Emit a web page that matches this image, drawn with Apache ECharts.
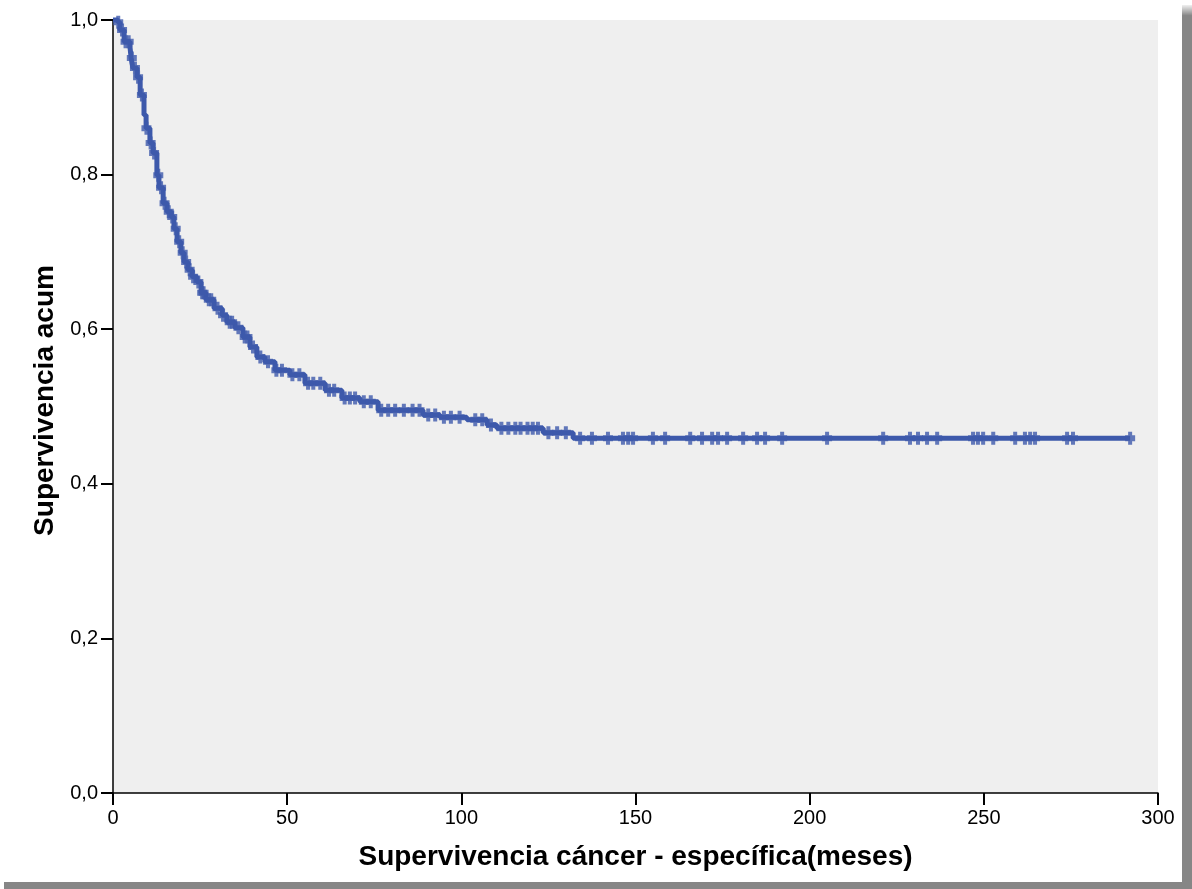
<!DOCTYPE html>
<html>
<head>
<meta charset="utf-8">
<script src="https://cdn.jsdelivr.net/npm/echarts@6/dist/echarts.min.js"></script>
<style>
html,body{margin:0;padding:0;background:#fff;}
#chart{width:1192px;height:889px;}
</style>
</head>
<body>
<div id="chart"></div>
<script>
// Kaplan-Meier step data (event times in months, survival after event)
const eventTimes = [0, 1.4, 2.0, 3.2, 4.9, 5.2, 5.7, 6.9, 7.8, 8.9, 9.5, 10.6, 11.5, 12.6, 13.2, 14.4, 15.5, 16.7, 17.5, 18.4, 19.5, 20.4, 21.5, 22.7, 24.1, 25.3, 26.7, 29.0, 31.3, 32.7, 35.0, 37.3, 39.3, 41.3, 43.6, 46.5, 50.8, 55.1, 60.9, 65.7, 70.9, 76.1, 89.0, 93.9, 101.6, 107.4, 110.2, 123.5, 132.1];
const survival = [1.0, 0.997, 0.987, 0.972, 0.964, 0.951, 0.938, 0.926, 0.903, 0.877, 0.860, 0.841, 0.828, 0.799, 0.783, 0.763, 0.752, 0.745, 0.730, 0.713, 0.699, 0.687, 0.677, 0.668, 0.661, 0.647, 0.638, 0.627, 0.618, 0.609, 0.602, 0.590, 0.577, 0.564, 0.558, 0.547, 0.541, 0.530, 0.521, 0.511, 0.506, 0.495, 0.489, 0.486, 0.483, 0.476, 0.472, 0.466, 0.459];
const lastFollowUp = 292;
// censored observations (months)
const censorTimes = [1.5, 2.6, 3.6, 4.5, 5.4, 6.3, 7.2, 8.3, 9.6, 10.8, 11.8, 13.0, 13.8, 14.8, 16.0, 17.0, 18.0, 19.0, 20.0, 21.0, 22.0, 23.0, 24.5, 25.6, 26.0, 27.5, 28.2, 30.0, 31.6, 33.5, 34.2, 36.0, 37.8, 38.6, 40.2, 42.3, 44.5, 46.9, 48.5, 51.5, 53.5, 56.0, 57.5, 59.5, 62.0, 63.5, 66.5, 68.0, 69.5, 72.0, 74.0, 77.0, 79.0, 81.0, 83.5, 86.0, 88.0, 90.5, 92.5, 95.0, 97.0, 99.5, 104.0, 106.0, 108.5, 111.5, 113.5, 115.5, 117.0, 119.0, 120.5, 122.0, 125.0, 127.5, 130.0,
  134.1, 137.5, 142.1, 146.4, 147.9, 149.3, 155.0, 158.5, 165.7, 169.1, 172.0, 173.7, 176.3, 180.9, 184.9, 187.2, 192.1, 205.0, 221.1, 228.8, 231.1, 233.7, 236.6, 246.9, 248.3, 249.8, 252.7, 259.0, 261.8, 263.3, 264.7, 273.9, 275.6, 292];
const xTicks = [0, 50, 100, 150, 200, 250, 300];
const yTicks = [0, 0.2, 0.4, 0.6, 0.8, 1.0];

function survAt(t) {
  let s = survival[0];
  for (let i = 0; i < eventTimes.length; i++) {
    if (eventTimes[i] <= t) s = survival[i]; else break;
  }
  return s;
}

const stepData = eventTimes.map((t, i) => [t, survival[i]]);
stepData.push([lastFollowUp, survival[survival.length - 1]]);
const censorData = censorTimes.map(t => [t, survAt(t)]);

const blue = '#3d59ab';
const font = '"Liberation Sans", Arial, sans-serif';
const chart = echarts.init(document.getElementById('chart'));
chart.setOption({
  animation: false,
  grid: {
    left: 113, right: 34, top: 20, bottom: 96,
    show: true, backgroundColor: '#efefef', borderWidth: 0
  },
  xAxis: {
    type: 'value', min: xTicks[0], max: xTicks[xTicks.length - 1], interval: 50,
    name: 'Supervivencia cáncer - específica(meses)',
    nameLocation: 'middle', nameGap: 50,
    nameTextStyle: { fontFamily: font, fontSize: 28, fontWeight: 'bold', color: '#000' },
    axisLine: { show: true, lineStyle: { color: '#000', width: 1.5 } },
    axisTick: { show: true, length: 12, lineStyle: { color: '#000', width: 2 } },
    axisLabel: { fontFamily: font, fontSize: 20, color: '#000', margin: 15 },
    splitLine: { show: false }
  },
  yAxis: {
    type: 'value', min: yTicks[0], max: yTicks[yTicks.length - 1], interval: 0.2,
    name: 'Supervivencia acum',
    nameLocation: 'middle', nameGap: 44,
    nameTextStyle: { fontFamily: font, fontSize: 28, fontWeight: 'bold', color: '#000', padding: [0, 0, 0, 12] },
    axisLine: { show: true, lineStyle: { color: '#000', width: 1.5 } },
    axisTick: { show: true, length: 12, lineStyle: { color: '#000', width: 2 } },
    axisLabel: { fontFamily: font, fontSize: 20, color: '#000', margin: 15,
      formatter: v => v.toFixed(1).replace('.', ',') },
    splitLine: { show: false }
  },
  graphic: [
    { type: 'rect', shape: { x: 1182, y: 5, width: 10, height: 884 },
      style: { fill: new echarts.graphic.LinearGradient(0, 0, 0, 1, [
        { offset: 0, color: '#f0f0f0' }, { offset: 0.012, color: '#868686' }, { offset: 1, color: '#868686' }]) } },
    { type: 'rect', shape: { x: 4, y: 882, width: 1188, height: 7 }, style: { fill: '#868686' } }
  ],
  series: [
    {
      type: 'line', step: 'end', data: stepData, showSymbol: false, clip: false,
      lineStyle: { color: blue, width: 5 }, z: 3
    },
    {
      type: 'scatter', data: censorData, clip: false,
      symbol: 'path://M3,0H7V3.5H10V9.5H7V13H3V9.5H0V3.5H3Z',
      symbolSize: [10, 13], symbolKeepAspect: false,
      itemStyle: { color: blue }, z: 4
    }
  ]
});
</script>
</body>
</html>
